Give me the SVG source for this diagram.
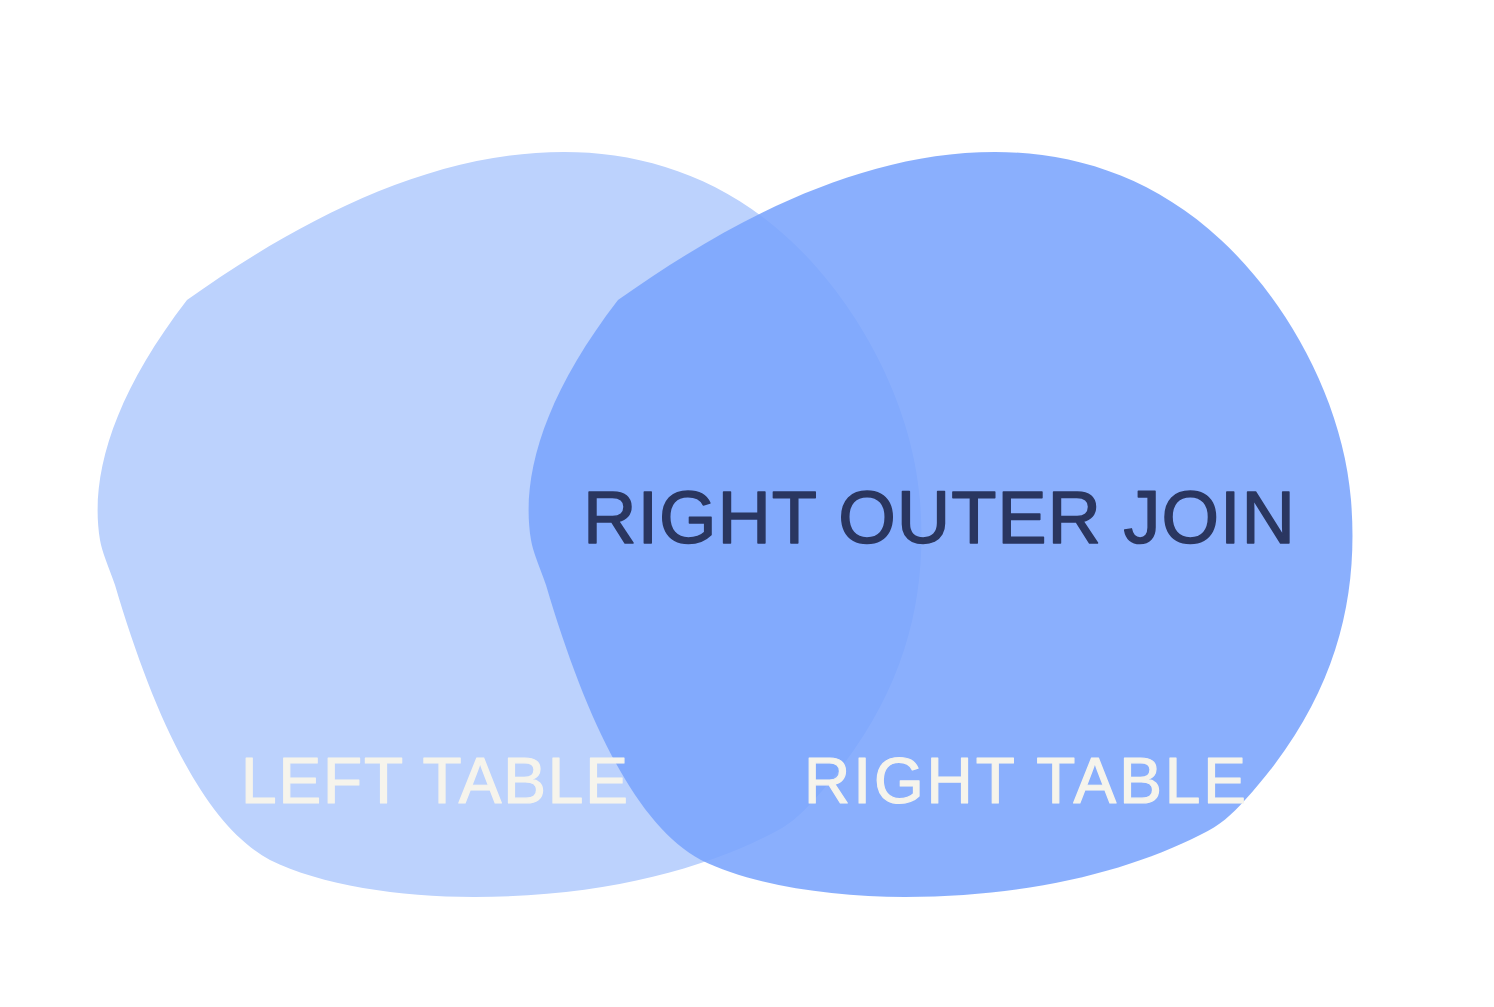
<svg xmlns="http://www.w3.org/2000/svg" width="1494" height="1007" viewBox="0 0 1494 1007">
  <style>
    .blob-left { fill: #bcd2fd; }
    .blob-right { fill: #7aa4fd; fill-opacity: 0.88; }
    .title { font-family: "Liberation Sans", Arial, sans-serif; font-size: 74px; fill: #2a3660; stroke: #2a3660; stroke-width: 1.5; stroke-linejoin: round; }
    .label { font-family: "Liberation Sans", Arial, sans-serif; font-size: 64px; fill: #f6f4ec; stroke: #f6f4ec; stroke-width: 1.2; stroke-linejoin: round; }
  </style>
  <defs>
    <path id="blob" d="M 564,152 C 640,152 720,175 790,240 C 855,300 912,400 920,500 C 928,600 905,700 814,800 C 800,815 790,825 769,835 C 700,870 600,897 474,897 C 400,897 320,885 270,860 C 205,825 155,720 115,585 C 108,565 102,552 100,540 C 90,480 110,400 187,300 C 300,220 430,152 564,152 Z"/>
  </defs>
  <rect width="1494" height="1007" fill="#ffffff"/>
  <g id="left-table">
    <use href="#blob" class="blob-left"/>
  </g>
  <g id="right-table">
    <use href="#blob" class="blob-right" transform="translate(431,0)"/>
  </g>
  <g id="connectors"/>
  <g id="labels">
    <text id="label-join" class="title" x="583" y="543" textLength="712" lengthAdjust="spacing">RIGHT OUTER JOIN</text>
    <text id="label-left" class="label" x="241" y="803" textLength="387" lengthAdjust="spacing">LEFT TABLE</text>
    <text id="label-right" class="label" x="804" y="803" textLength="442" lengthAdjust="spacing">RIGHT TABLE</text>
  </g>
</svg>
